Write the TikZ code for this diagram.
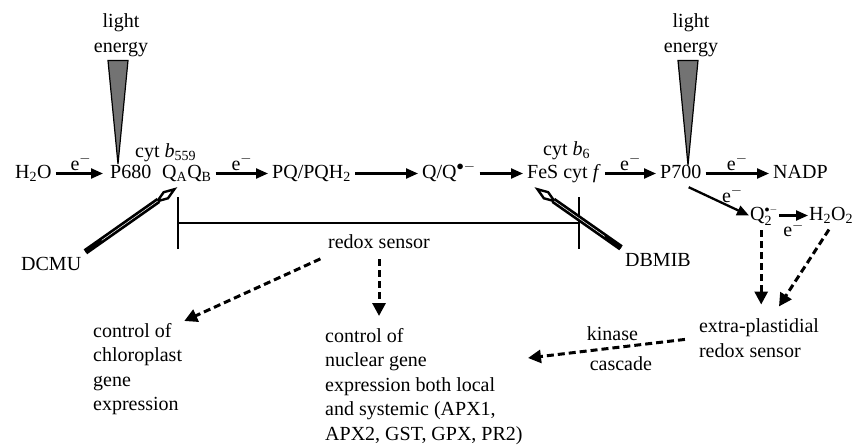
\documentclass[tikz,border=0pt]{standalone}
\usepackage{fontspec}
\setmainfont{Liberation Serif}
\usetikzlibrary{arrows.meta}

\begin{document}
\begin{tikzpicture}[x=1pt,y=-1pt,
  font=\fontsize{20}{24.5}\selectfont,
  every node/.style={inner sep=2pt},
  chem/.style={anchor=base west, inner sep=4pt, text height=14pt, text depth=5pt},
  eflow/.style={line width=2.3pt, -{Triangle[length=12pt,width=10pt]}},
  signal/.style={line width=3pt, dash pattern=on 7pt off 4pt, -{Triangle[length=13pt,width=13pt]}},
  blockhead/.style={line width=2.4pt, -{Kite[fill=white, length=28pt, width=10pt, inset=14pt]}},
  blockshaft/.style={line width=6pt, shorten >=23pt},
  blockcore/.style={white, line width=0.5pt, shorten >=24pt, shorten <=20pt},
  wedge/.style={fill=black!55, draw=black, line width=1.2pt}]

  \useasboundingbox (0,0) rectangle (854,447);

  % Light sources
  \node[align=center] (lightL) at (121,35) {light\\energy};
  \node[align=center] (lightR) at (691,35) {light\\energy};

  % Electron transport chain
  \node[chem] (h2o) at (11,178) {H\textsubscript{2}O};
  \node[chem] (p680) at (106,178) {P680};
  \node[chem] (qaqb) at (158,178) {Q\textsubscript{A}Q\textsubscript{B}};
  \node[chem] (cytb559) at (131,157) {cyt \textit{b}\textsubscript{559}};
  \node[chem] (pq) at (268,178) {PQ/PQH\textsubscript{2}};
  \node[chem] (q) at (418,178) {Q/Q$^{\bullet-}$};
  \node[chem] (fes) at (523,178) {FeS cyt \textit{f}};
  \node[chem] (cytb6) at (539,155) {cyt \textit{b}\textsubscript{6}};
  \node[chem] (p700) at (656,178) {P700};
  \node[chem] (nadp) at (769,178) {NADP};
  \node[chem, inner sep=1pt] (q2) at (749,220) {Q$_{\mathrm{2}}^{\scriptscriptstyle\bullet-}$};
  \node[chem, inner sep=1pt] (h2o2) at (808,220) {H\textsubscript{2}O\textsubscript{2}};

  % Inhibitors and sensors
  \node[chem] (dcmu) at (17,270) {DCMU};
  \node[chem] (dbmib) at (621,266) {DBMIB};
  \node[chem] (redox) at (324,248) {redox sensor};
  \node[align=left, anchor=north west] (chloro) at (91,321)
    {control of\\chloroplast\\gene\\expression};
  \node[align=left, anchor=north west] (nuclear) at (323,326)
    {control of\\nuclear gene\\expression both local\\and systemic (APX1,\\APX2, GST, GPX, PR2)};
  \node[align=left] (extra) at (759,338) {extra-plastidial\\redox sensor};
  \coordinate (kin) at (528,358);

  % Light wedges
  \coordinate (tipL) at (118,164);
  \coordinate (tipR) at (688,165);
  \filldraw[wedge] (lightL.south -| tipL) ++(-10,2) -- ++(20,0) -- (tipL) -- cycle;
  \filldraw[wedge] (lightR.south -| tipR) ++(-10,2) -- ++(20,0) -- (tipR) -- cycle;

  % Electron flow
  \draw[eflow, shorten >=3pt] (h2o.east) -- node[above] {e$^-$} (p680.west);
  \draw[eflow] (qaqb.east) -- node[above] {e$^-$} (pq.west);
  \draw[eflow] (pq.east) -- (q.west);
  \draw[eflow] (q.east) -- (fes.west);
  \draw[eflow] (fes.east) -- node[above] {e$^-$} (p700.west);
  \draw[eflow] (p700.east) -- node[above] {e$^-$} (nadp.west);
  \draw[eflow] (p700.-60) -- node[pos=0.55, above right=-3pt] {e$^-$} (q2.west);
  \draw[eflow] (q2.east) -- node[below=2pt] {e$^-$} (h2o2.west);

  % Redox sensor span
  \coordinate (barL) at (177,223);
  \coordinate (barR) at (580,223);
  \draw[line width=2pt, {Bar[width=52pt]}-{Bar[width=52pt]}] (barL) -- (barR);

  % Inhibitors
  \draw[blockhead] (dcmu.north east) -- (qaqb.-125);
  \draw[blockshaft] (dcmu.north east) -- (qaqb.-125);
  \draw[blockcore] (dcmu.north east) -- (qaqb.-125);
  \draw[blockhead] (dbmib.north west) -- (fes.-155);
  \draw[blockshaft] (dbmib.north west) -- (fes.-155);
  \draw[blockcore] (dbmib.north west) -- (fes.-155);

  % Signalling
  \draw[signal, shorten <=4pt] (redox.south west) -- (chloro.north east);
  \draw[signal, shorten <=2pt, shorten >=10pt] (redox.south) -- (redox.south |- nuclear.north);
  \draw[signal, shorten <=4pt, shorten >=12pt] (q2.-105) -- (q2.-105 |- extra.north);
  \draw[signal, shorten <=4pt, shorten >=12pt] (h2o2.south) -- (extra.58);
  \draw[signal, shorten <=12pt] (extra.west) -- node[above=4pt] {kinase}
    node[pos=0.45, below=6pt] {cascade} (kin);
\end{tikzpicture}
\end{document}
